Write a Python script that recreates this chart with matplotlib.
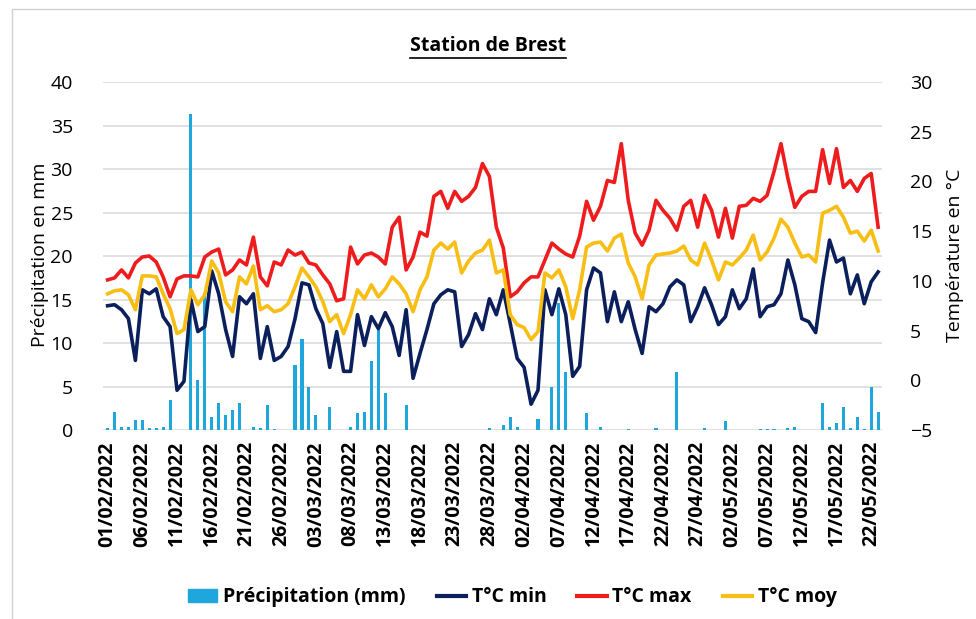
import numpy as np
import pandas as pd
import matplotlib
matplotlib.use("Agg")
import matplotlib.pyplot as plt
from matplotlib import font_manager
from matplotlib.lines import Line2D
from matplotlib.patches import Patch, Rectangle

# pick a narrow font if we have one
names = {f.name for f in font_manager.fontManager.ttflist}
base = "Liberation Sans Narrow" if "Liberation Sans Narrow" in names else "Open Sans"
plt.rcParams['font.family'] = [base, 'DejaVu Sans']

dates = pd.date_range("2022-02-01", "2022-05-23", freq="D")

precip = [0.2, 2.1, 0.4, 0.3, 1.2, 1.1, 0.2, 0.2, 0.4, 3.5,
          0, 0, 36.3, 5.7, 15.7, 1.5, 3.1, 1.7, 2.3, 3.1,
          0, 0.4, 0.2, 2.9, 0.1, 0, 0, 7.5, 10.5, 5.0,
          1.7, 0, 2.6, 0, 0, 0.3, 2.0, 2.1, 7.9, 12.0,
          4.2, 0, 0, 2.9, 0, 0, 0, 0, 0, 0,
          0, 0, 0, 0, 0, 0.2, 0, 0.6, 1.5, 0.4,
          0, 0, 1.3, 0, 5.0, 14.6, 6.7, 0, 0, 1.9,
          0, 0.3, 0, 0, 0, 0.1, 0, 0, 0, 0.2,
          0, 0, 6.7, 0, 0, 0, 0.2, 0, 0, 1.0,
          0, 0, 0, 0, 0.1, 0.1, 0.1, 0, 0.2, 0.3,
          0, 0, 0, 3.1, 0.4, 0.8, 2.7, 0.2, 1.5, 0.1,
          4.9, 2.1]

t_min = [7.5, 7.6, 7.1, 6.2, 2.0, 9.1, 8.7, 9.2, 6.4, 5.4,
         -1.0, -0.1, 8.1, 4.9, 5.4, 11.0, 8.7, 5.1, 2.4, 8.4,
         7.7, 8.7, 2.2, 5.4, 2.0, 2.4, 3.4, 6.2, 9.8, 9.6,
         7.2, 5.7, 1.3, 4.9, 0.9, 0.9, 6.6, 3.5, 6.4, 5.2,
         6.8, 5.4, 2.5, 7.1, 0.2, 2.7, 5.1, 7.7, 8.6, 9.1,
         8.9, 3.4, 4.6, 6.7, 5.1, 8.2, 6.6, 9.1, 5.7, 2.2,
         1.3, -2.4, -1.0, 9.1, 6.6, 9.2, 6.6, 0.4, 1.4, 9.1,
         11.3, 10.8, 5.9, 8.9, 5.9, 7.9, 5.1, 2.7, 7.4, 6.9,
         7.7, 9.4, 10.1, 9.6, 5.9, 7.4, 9.3, 7.6, 5.6, 6.4,
         9.1, 7.2, 8.2, 11.2, 6.4, 7.4, 7.6, 8.7, 12.1, 9.6,
         6.2, 5.9, 4.8, 9.8, 14.1, 11.9, 12.3, 8.7, 10.6, 7.7,
         9.9, 10.9]

t_max = [10.1, 10.3, 11.1, 10.3, 11.8, 12.4, 12.5, 11.9, 10.4, 8.4,
         10.2, 10.5, 10.5, 10.4, 12.4, 12.9, 13.2, 10.6, 11.1, 12.1,
         11.6, 14.4, 10.4, 9.5, 11.9, 11.6, 13.1, 12.6, 12.9, 11.8,
         11.6, 10.6, 9.7, 8.0, 8.2, 13.4, 11.7, 12.6, 12.8, 12.4,
         11.7, 15.4, 16.4, 11.1, 12.4, 14.9, 14.5, 18.5, 19.0, 17.3,
         19.0, 18.0, 18.5, 19.4, 21.8, 20.5, 15.4, 13.3, 8.4, 8.9,
         9.8, 10.4, 10.4, 12.1, 13.8, 13.2, 12.7, 12.4, 14.5, 18.0,
         16.1, 17.5, 20.1, 19.9, 23.8, 18.1, 14.8, 13.6, 15.1, 18.1,
         17.1, 16.3, 15.1, 17.5, 18.1, 15.4, 18.6, 17.1, 14.4, 17.3,
         14.3, 17.5, 17.6, 18.3, 18.0, 18.6, 21.0, 23.8, 20.3, 17.4,
         18.5, 19.0, 19.0, 23.2, 19.8, 23.3, 19.4, 20.1, 19.0, 20.3,
         20.8, 15.4]

t_moy = [8.7, 9.0, 9.1, 8.6, 7.1, 10.5, 10.5, 10.4, 8.7, 7.2,
         4.7, 5.1, 9.1, 7.6, 8.6, 12.0, 10.8, 7.9, 6.9, 10.4,
         9.7, 11.5, 7.1, 7.5, 6.9, 7.1, 7.7, 9.4, 11.3, 10.4,
         9.4, 7.9, 5.9, 6.6, 4.7, 6.6, 9.1, 8.2, 9.6, 8.4,
         9.2, 10.4, 9.7, 8.7, 6.9, 9.1, 10.4, 13.1, 13.8, 13.2,
         13.9, 10.8, 12.0, 12.8, 13.1, 14.1, 10.8, 11.1, 6.6, 5.6,
         5.3, 4.1, 4.9, 10.8, 10.3, 11.1, 9.4, 6.2, 9.1, 13.4,
         13.8, 13.9, 13.0, 14.3, 14.7, 11.8, 10.4, 8.2, 11.6, 12.6,
         12.7, 12.8, 13.0, 13.5, 12.1, 11.6, 13.8, 12.1, 10.1, 11.9,
         11.6, 12.3, 13.1, 14.6, 12.1, 12.9, 14.3, 16.2, 15.4, 13.8,
         12.4, 12.6, 11.9, 16.8, 17.1, 17.5, 16.4, 14.8, 15.0, 14.0,
         15.1, 13.0]

labels = [d.strftime("%d/%m/%Y") for d in dates]
x = np.arange(len(dates))

fig = plt.figure(figsize=(9.76, 6.19), dpi=100)
ax = fig.add_axes([0.106, 0.3053, 0.798, 0.5622])
ax2 = ax.twinx()

# precipitation bars on the left axis
ax.bar(x, precip, width=0.45, color="#1FA6DC", zorder=2)
ax.set_ylim(0, 40)
ax.set_yticks(range(0, 41, 5))
ax.set_xlim(-0.6, len(x) - 0.4)
ax.grid(axis="y", color="#d9d9d9", linewidth=1.1, zorder=0)
ax.set_axisbelow(True)

# temperatures on the right axis
ax2.plot(x, t_min, color="#0B1F5C", lw=2.6, solid_joinstyle="round")
ax2.plot(x, t_max, color="#EE1C1C", lw=2.6, solid_joinstyle="round")
ax2.plot(x, t_moy, color="#F8BE14", lw=2.6, solid_joinstyle="round")
ax2.set_ylim(-5, 30)
ax2.set_yticks(range(-5, 31, 5))

for a in (ax, ax2):
    for s in a.spines.values():
        s.set_visible(False)

ax.set_xticks(x[::5])
ax.set_xticklabels(labels[::5], rotation=90, fontsize=14, fontweight="bold")
ax.tick_params(axis="x", length=0, pad=8)
ax.tick_params(axis="y", length=0, pad=22, labelsize=14)
ax2.tick_params(axis="y", length=0, pad=20, labelsize=14)

# axis titles
fig.text(0.041, 0.588, "Précipitation en mm", rotation=90, ha="center",
         va="center", fontsize=14)
fig.text(0.978, 0.588, "Température en °C", rotation=90, ha="center",
         va="center", fontsize=14)

title = fig.text(0.5, 0.91, "Station de Brest", ha="center", va="bottom",
                 fontsize=14, fontweight="bold")

handles = [Patch(color="#1FA6DC"),
           Line2D([], [], color="#0B1F5C", lw=3),
           Line2D([], [], color="#EE1C1C", lw=3),
           Line2D([], [], color="#F8BE14", lw=3)]
names_leg = ["Précipitation (mm)", "T°C min", "T°C max", "T°C moy"]
fig.legend(handles, names_leg, loc="center", bbox_to_anchor=(0.525, 0.035),
           ncol=4, frameon=False, prop={"size": 14, "weight": "bold"},
           handlelength=1.5, handletextpad=0.3, columnspacing=1.6)

# underline the title
fig.canvas.draw()
bb = title.get_window_extent().transformed(fig.transFigure.inverted())
fig.add_artist(Line2D([bb.x0, bb.x1], [bb.y0 - 0.004, bb.y0 - 0.004],
                      transform=fig.transFigure, color="black", lw=1.2))

# chart border
fig.add_artist(Rectangle((0.012, -0.01), 0.99, 0.995, transform=fig.transFigure,
                         fill=False, edgecolor="#d0d0d0", lw=1))

fig.savefig("out.png", dpi=100)
